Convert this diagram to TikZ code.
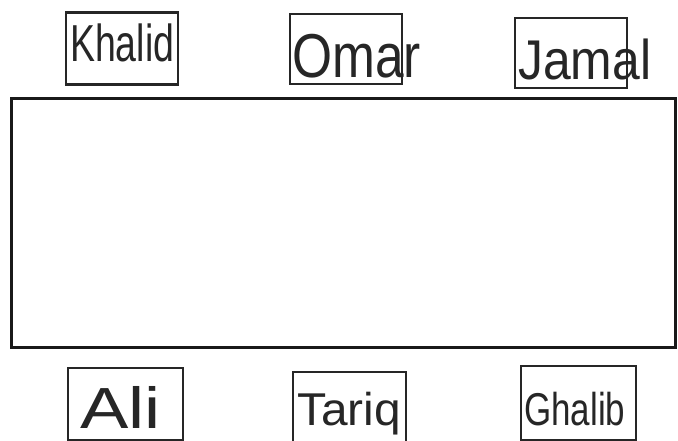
\documentclass[tikz,border=0pt]{standalone}
\usepackage{fontspec}
\setmainfont{Liberation Sans}
\begin{document}
\begin{tikzpicture}[x=1pt,y=-1pt,
  namebox/.style={draw=black!85,line width=2.2pt,inner sep=0pt,minimum width=#1},
  hand/.style={inner sep=0pt,anchor=base west,text=black!85},
  table/.style={draw=black!90,line width=3pt,inner sep=0pt}]
\useasboundingbox (0,0) rectangle (678,441);
\fill[white] (0,0) rectangle (678,441);
% big table
\node[table,minimum width=664pt,minimum height=248pt] (tbl) at (343,223) {};
% top boxes
\node[namebox=112pt,minimum height=72pt] (khalidbox) at (122,48.5) {};
\node[namebox=112pt,minimum height=70pt] (omarbox) at (346,49) {};
\node[namebox=112pt,minimum height=70pt] (jamalbox) at (571,53) {};
% bottom boxes
\node[namebox=115pt,minimum height=72pt] (alibox) at (125.5,404) {};
\node[namebox=113pt,minimum height=70pt] (tariqbox) at (349.5,407) {};
\node[namebox=115pt,minimum height=74pt] (ghalibbox) at (578.5,403) {};
% names
\node[hand,font=\fontsize{52}{54}\selectfont] (khalid) at (70,62) {\scalebox{0.72}[1]{Khalid}};
\node[hand,font=\fontsize{62}{64}\selectfont] (omar) at (292,78) {\scalebox{0.83}[1]{Omar}};
\node[hand,font=\fontsize{56}{58}\selectfont] (jamal) at (518,80) {\scalebox{0.89}[1]{Jamal}};
\node[hand,font=\fontsize{58}{60}\selectfont] (ali) at (80,428) {\scalebox{1.25}[1]{Ali}};
\node[hand,font=\fontsize{46}{48}\selectfont] (tariq) at (297,425) {\scalebox{1.04}[1]{Tariq}};
\node[hand,font=\fontsize{46}{48}\selectfont] (ghalib) at (524,425) {\scalebox{0.76}[1]{Ghalib}};
\end{tikzpicture}
\end{document}
